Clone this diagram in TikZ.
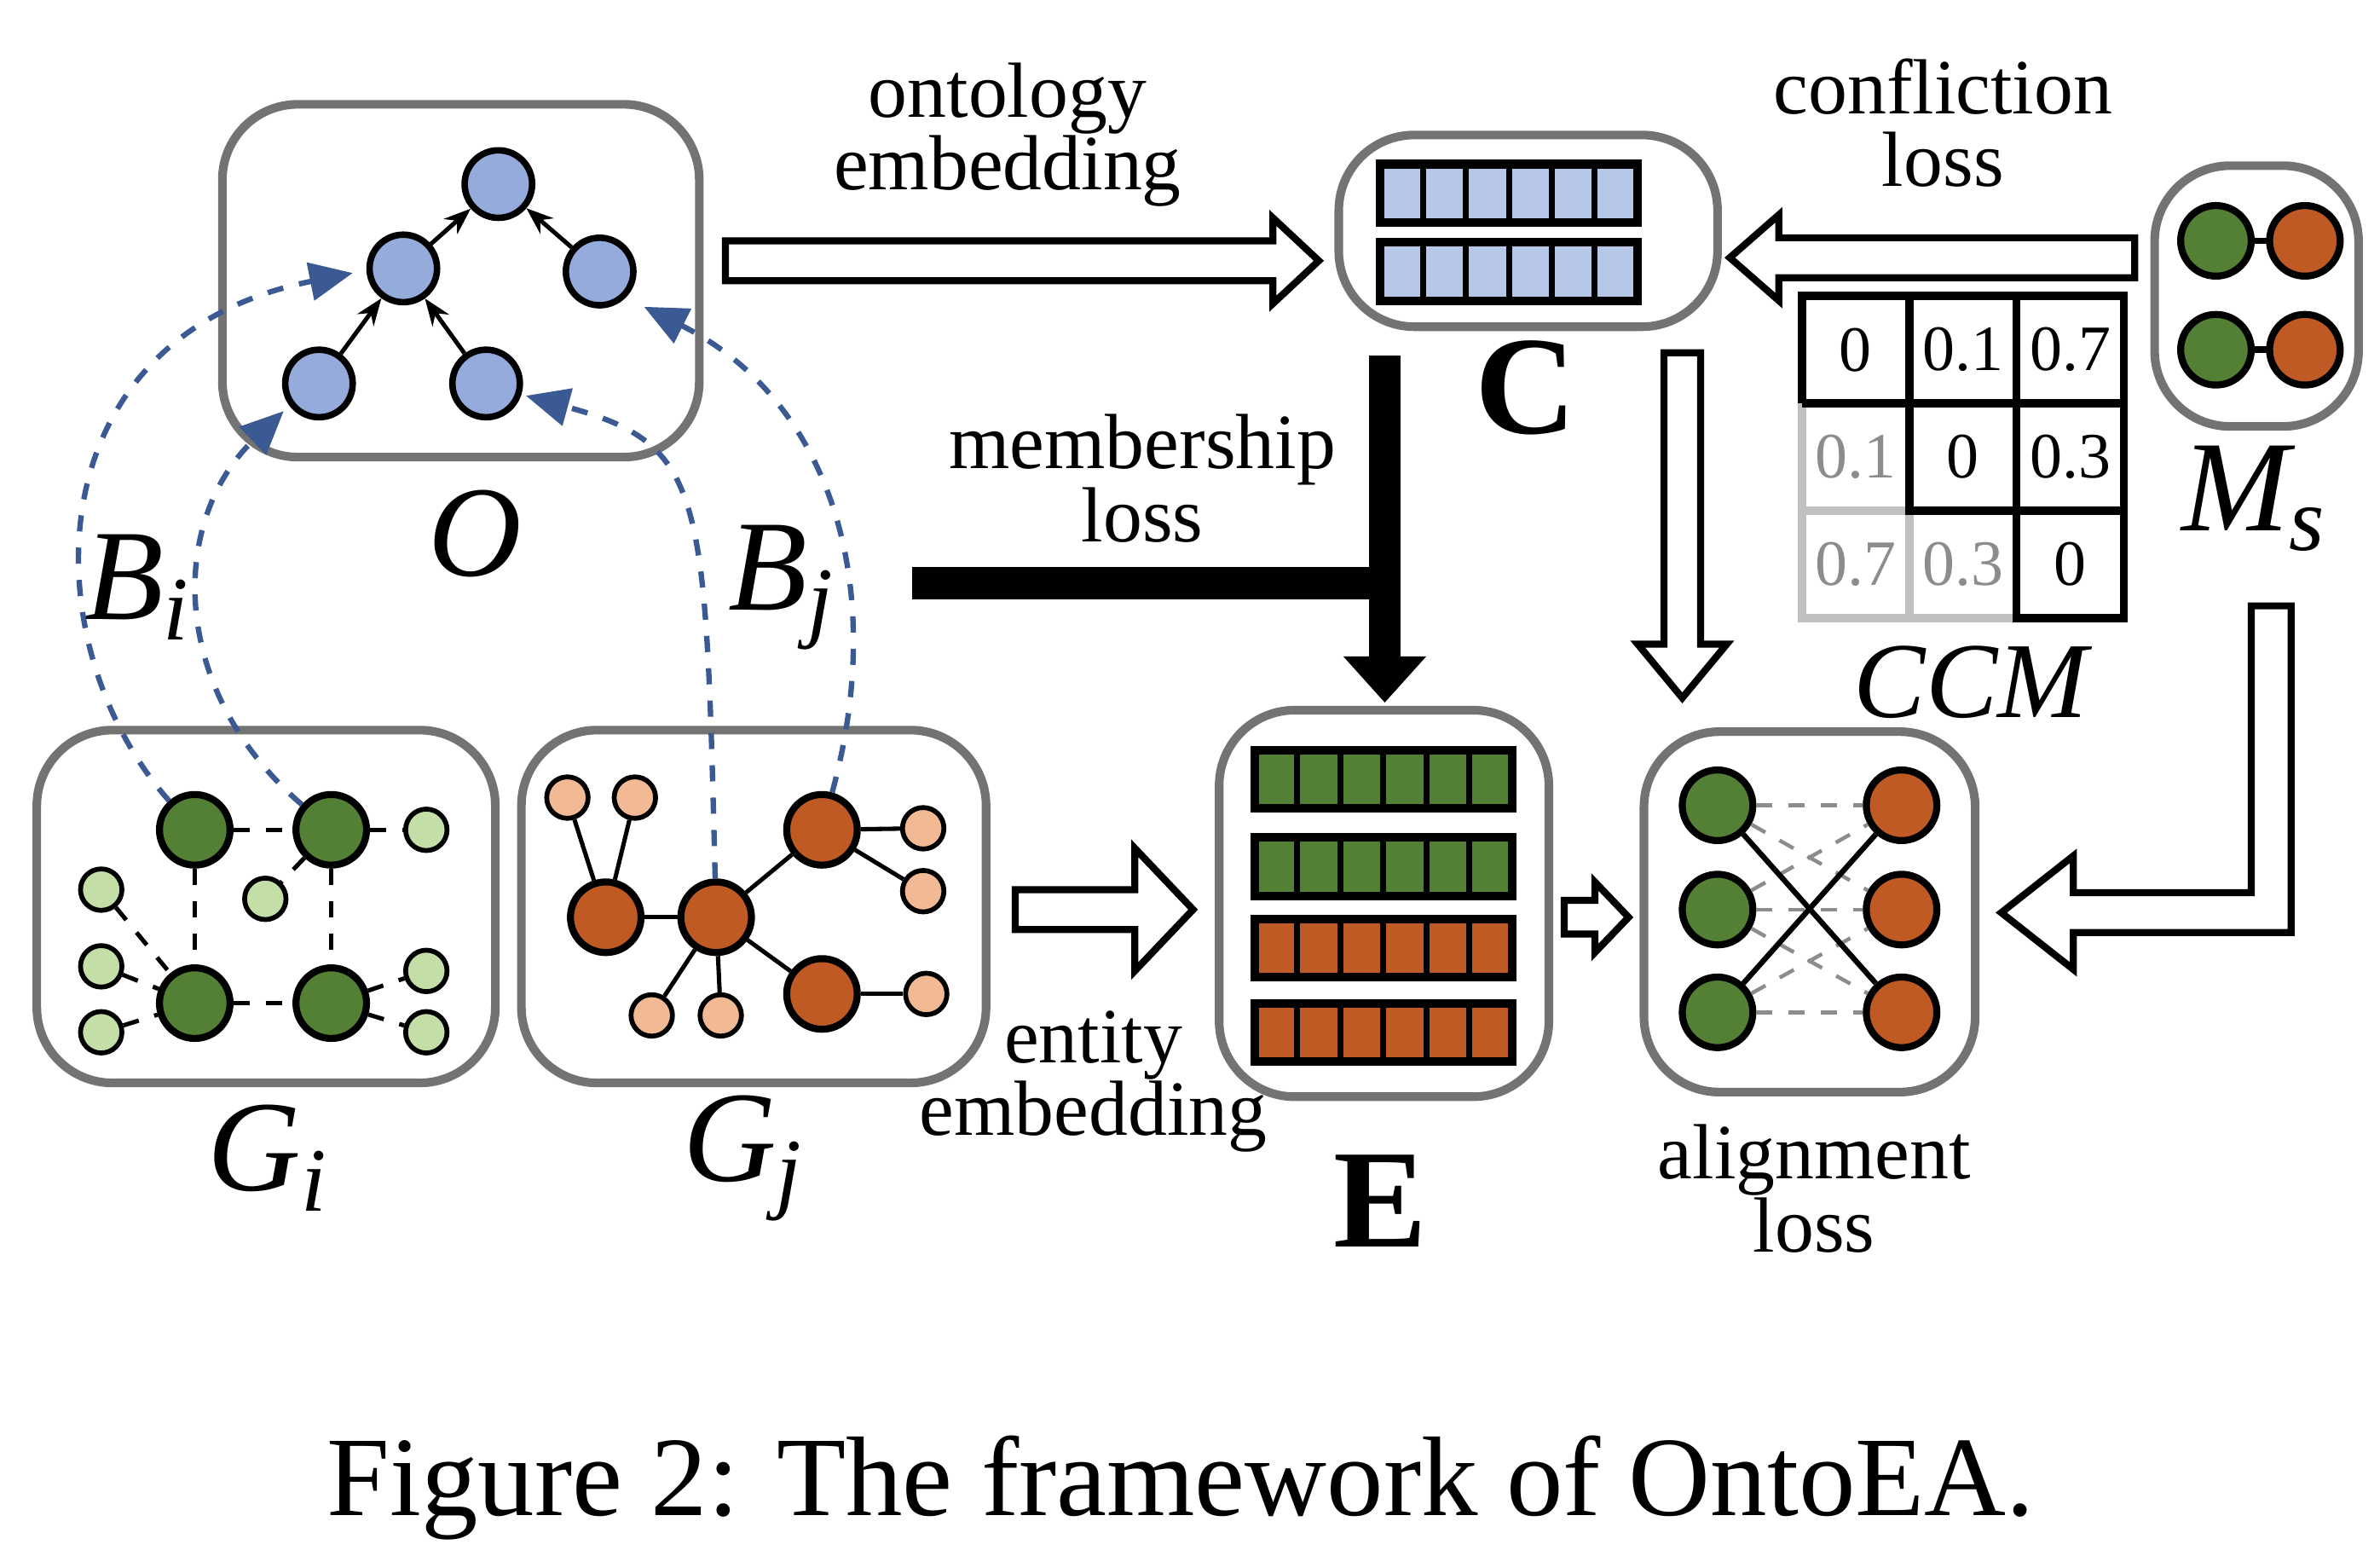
\documentclass[tikz,border=0pt]{standalone}
\usepackage{fontspec}
\setmainfont{Liberation Serif}
\usetikzlibrary{arrows.meta}
\definecolor{cblue}{HTML}{94ABDC}
\definecolor{lblue}{HTML}{B7C7E8}
\definecolor{dgreen}{HTML}{548036}
\definecolor{lgreen}{HTML}{C4DEA8}
\definecolor{dorange}{HTML}{BF5A24}
\definecolor{lorange}{HTML}{F2BA94}
\definecolor{dblue}{HTML}{3B5A93}
\tikzset{
  box/.style={draw=black!55,line width=1.6pt,rounded corners=14pt},
  bnode/.style={circle,draw=black,line width=1.2pt,fill=cblue,inner sep=0pt,minimum size=0.44cm},
  gnode/.style={circle,draw=black,line width=1.3pt,fill=dgreen,inner sep=0pt,minimum size=0.46cm},
  snode/.style={circle,draw=black,line width=0.9pt,inner sep=0pt,minimum size=0.27cm},
  hollow/.style={draw=black,line width=1.3pt,fill=white},
  txt/.style={font=\fontsize{14.5}{13.5}\selectfont,align=center},
  num/.style={font=\fontsize{12}{12}\selectfont},
  lab/.style={font=\fontsize{24}{24}\selectfont\itshape}
}
\newcommand{\embbar}[3]{% x y colour
  \foreach \k in {0,...,5}
    \draw[fill=#3,line width=1.1pt] ({#1+\k*28},#2) rectangle ({#1+\k*28+28},{#2+38});
  \draw[line width=1.6pt] (#1,#2) rectangle ({#1+168},{#2+38});
}
\newcommand{\sub}[2]{#1\textsubscript{#2}}
\begin{document}
\begin{tikzpicture}[x=0.01cm,y=-0.01cm]
\useasboundingbox (0,0) rectangle (1552,1014);

% ontology
\draw[box] (145,68) rectangle (456,298);
\node[bnode] (o1) at (325,120) {};
\node[bnode] (o2) at (263,175) {};
\node[bnode] (o3) at (391,177) {};
\node[bnode] (o4) at (208,250) {};
\node[bnode] (o5) at (317,250) {};
\foreach \a/\b in {o2/o1,o3/o1,o4/o2,o5/o2}
  \draw[-{Stealth[length=5pt]},line width=0.8pt] (\a) -- (\b);
\node[lab] (O) at (310,348) {O};

% G_i
\draw[box] (24,476) rectangle (323,706);
\node[gnode] (g1) at (127,541) {};
\node[gnode] (g2) at (216,541) {};
\node[gnode] (g3) at (127,654) {};
\node[gnode] (g4) at (216,654) {};
\foreach \n/\x/\y in {l1/278/541,l2/173/586,l3/66/580,l4/66/630,l5/66/673,l6/278/633,l7/278/673}
  \node[snode,fill=lgreen] (\n) at (\x,\y) {};
\foreach \a/\b in {g1/g2,g2/l1,g1/g3,g2/g4,g3/g4,g2/l2,l3/g3,l4/g3,l5/g3,g4/l6,g4/l7}
  \draw[dashed,line width=0.8pt] (\a) -- (\b);
\node[lab] (Gi) at (175,755) {\sub{G}{i}};

% G_j
\draw[box] (340,476) rectangle (643,706);
\node[gnode,fill=dorange] (r1) at (395,598) {};
\node[gnode,fill=dorange] (r2) at (467,598) {};
\node[gnode,fill=dorange] (r3) at (536,541) {};
\node[gnode,fill=dorange] (r4) at (536,648) {};
\foreach \n/\x/\y in {p1/370/520,p2/414/520,p3/602/540,p4/602/581,p5/425/662,p6/470/662,p7/604/648}
  \node[snode,fill=lorange] (\n) at (\x,\y) {};
\foreach \a/\b in {r1/p1,r1/p2,r1/r2,r2/r3,r3/p3,r3/p4,r2/p5,r2/p6,r2/r4,r4/p7}
  \draw[line width=0.8pt] (\a) -- (\b);
\node[lab] (Gj) at (485,755) {\sub{G}{j}};

% bridges
\tikzset{bridge/.style={dashed,dblue,line width=1pt,-{Triangle[length=8pt,width=7pt]}}}
\draw[bridge] (g1) .. controls (20,420) and (20,220) .. (230,178);
\draw[bridge] (g2) .. controls (110,450) and (110,340) .. (185,268);
\draw[bridge] (r2) .. controls (460,320) and (460,290) .. (343,258);
\draw[bridge] (r3) .. controls (580,380) and (540,260) .. (420,200);
\node[lab] (Bi) at (90,383) {\sub{B}{i}};
\node[lab] (Bj) at (510,383) {\sub{B}{j}};

% C
\draw[box] (873,88) rectangle (1120,213);
\embbar{900}{107}{lblue}
\embbar{900}{158}{lblue}
\node[font=\fontsize{26}{26}\selectfont\bfseries] (C) at (995,253) {C};
\draw[hollow] (473,157) -- (830,157) -- (830,142) -- (860,170) -- (830,198) -- (830,183) -- (473,183) -- cycle;
\node[txt] (onto) at (657,88) {ontology\\embedding};

% M_s
\draw[box] (1405,108) rectangle (1538,278);
\foreach \y in {157,228}{
  \draw[line width=1.2pt] (1445,\y) -- (1503,\y);
  \node[gnode] at (1445,\y) {};
  \node[gnode,fill=dorange] at (1503,\y) {};
}
\node[lab] (Ms) at (1470,325) {\sub{M}{s}};
\draw[hollow] (1392,155) -- (1160,155) -- (1160,140) -- (1128,168) -- (1160,196) -- (1160,181) -- (1392,181) -- cycle;
\node[txt] (confl) at (1267,80) {confliction\\loss};

% CCM
\draw[black!25,line width=1.5pt] (1175,263) -- (1175,403) -- (1315,403);
\draw[black!25,line width=1.5pt] (1245,333) -- (1245,403) (1175,333) -- (1245,333);
\draw[line width=1.5pt] (1175,263) -- (1175,193) -- (1385,193) -- (1385,403) -- (1315,403) -- (1315,333) -- (1245,333) -- (1245,263) -- (1175,263);
\draw[line width=1.5pt] (1245,193) -- (1245,263) (1315,193) -- (1315,333) (1245,263) -- (1385,263) (1315,333) -- (1385,333);
\foreach \v/\c/\r/\g in {0/0/0/0,0.1/1/0/0,0.7/2/0/0,0.1/0/1/1,0/1/1/0,0.3/2/1/0,0.7/0/2/1,0.3/1/2/1,0/2/2/0}{
  \ifnum\g=1 \def\cc{black!45}\else\def\cc{black}\fi
  \node[num,text=\cc] at ({1210+70*\c},{228+70*\r}) {\v};
}
\node[lab,font=\fontsize{20}{20}\selectfont\itshape] (CCM) at (1285,445) {CCM};

% E
\draw[box] (795,463) rectangle (1010,715);
\embbar{818}{489}{dgreen}
\embbar{818}{546}{dgreen}
\embbar{818}{599}{dorange}
\embbar{818}{654}{dorange}
\node[font=\fontsize{26}{26}\selectfont\bfseries] (E) at (900,783) {E};

% membership loss
\draw[line width=6pt] (595,380) -- (907,380);
\draw[line width=6pt] (903,232) -- (903,430);
\fill (876,428) -- (930,428) -- (903,458) -- cycle;
\node[txt] (member) at (745,312) {membership\\loss};

\draw[hollow] (1085,230) -- (1109,230) -- (1109,420) -- (1126,420) -- (1097,455) -- (1068,420) -- (1085,420) -- cycle;

% entity embedding
\draw[hollow] (662,580) -- (740,580) -- (740,553) -- (778,593) -- (740,633) -- (740,606) -- (662,606) -- cycle;
\node[txt] (ent) at (713,705) {entity\\embedding};
\draw[hollow] (1020,587) -- (1040,587) -- (1040,575) -- (1062,598) -- (1040,621) -- (1040,609) -- (1020,609) -- cycle;

% alignment
\draw[box] (1072,477) rectangle (1288,712);
\foreach \i/\y in {1/525,2/593,3/660}{
  \node[gnode] (a\i) at (1120,\y) {};
  \node[gnode,fill=dorange] (b\i) at (1240,\y) {};
}
\foreach \i in {1,2,3}\foreach \j in {1,2,3}
  \draw[dashed,black!45,line width=0.7pt] (a\i) -- (b\j);
\draw[line width=1pt] (a3) -- (b1);
\draw[line width=1pt] (a1) -- (b3);
\node[txt] (align) at (1183,775) {alignment\\loss};

\draw[hollow] (1468,395) -- (1494,395) -- (1494,608) -- (1352,608) -- (1352,632) -- (1305,595) -- (1352,558) -- (1352,582) -- (1468,582) -- cycle;

% caption
\node[font=\fontsize{21}{21}\selectfont] (cap) at (770,970) {Figure 2: The framework of OntoEA.};
\end{tikzpicture}
\end{document}
